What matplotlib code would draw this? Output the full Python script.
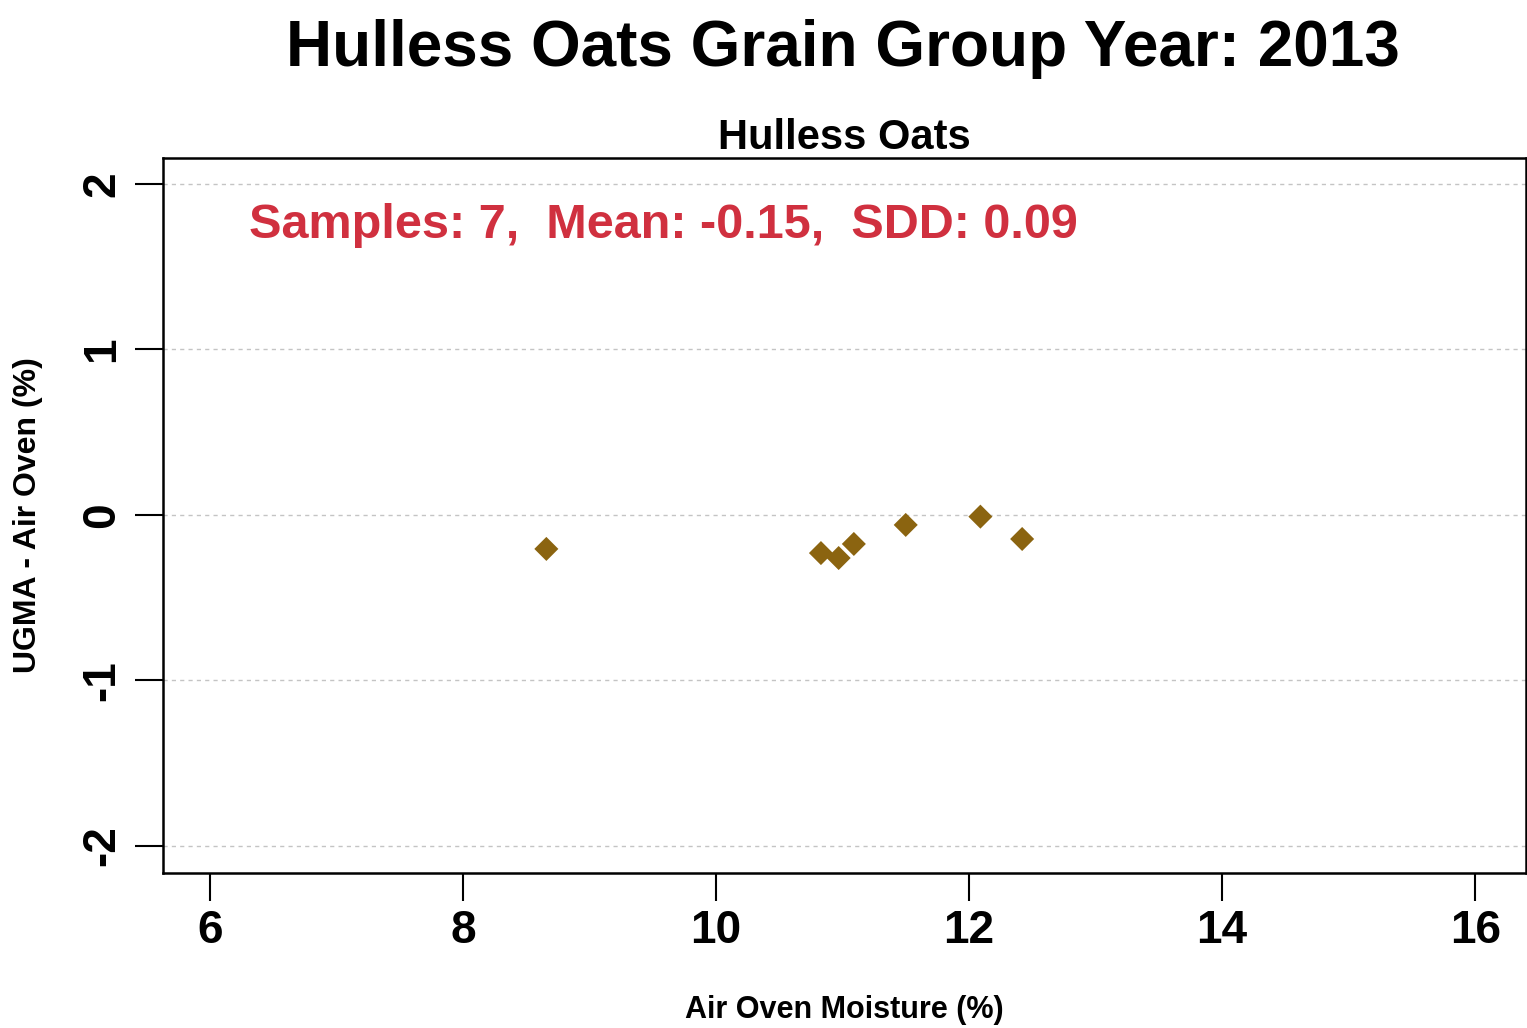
import matplotlib.pyplot as plt

# Air oven moisture (%) vs UGMA - Air Oven difference (%)
moisture = [8.66, 10.83, 10.97, 11.09, 11.50, 12.09, 12.42]
difference = [-0.205, -0.23, -0.26, -0.175, -0.06, -0.01, -0.145]
xticks = [6, 8, 10, 12, 14, 16]
yticks = [-2, -1, 0, 1, 2]

plt.rcParams["font.family"] = ["Liberation Sans", "DejaVu Sans"]

fig = plt.figure(figsize=(15.27, 10.28), dpi=100)
ax = fig.add_axes([0.1067, 0.1508, 0.8925, 0.6955])

ax.scatter(moisture, difference, marker="D", s=150, color="#8B6410", edgecolor="none", zorder=3)

ax.set_xlim(5.63, 16.4)
ax.set_ylim(-2.163, 2.157)
ax.set_xticks(xticks)
ax.set_yticks(yticks)
ax.set_xticklabels([str(t) for t in xticks], fontsize=33, fontweight="bold")
ax.set_yticklabels([str(t) for t in yticks], fontsize=33, fontweight="bold",
                   rotation=90, va="center")
ax.tick_params(axis="x", direction="out", length=20, width=1.5, pad=6)
ax.tick_params(axis="y", direction="out", length=20, width=1.5, pad=8)
for s in ax.spines.values():
    s.set_linewidth(1.8)
ax.grid(True, axis="y", color="#c4c4c4", linestyle=(0, (3, 3)), linewidth=1)

ax.set_xlabel("Air Oven Moisture (%)", fontsize=22, fontweight="bold", labelpad=30)
ax.set_ylabel("UGMA - Air Oven (%)", fontsize=23, fontweight="bold", labelpad=27)
ax.set_title("Hulless Oats", fontsize=30, fontweight="bold", pad=0)

ax.text(0.063, 0.905, "Samples: 7,  Mean: -0.15,  SDD: 0.09", transform=ax.transAxes,
        color="#D0303F", fontsize=35, fontweight="bold", va="center", ha="left")

fig.text(0.552, 0.952, "Hulless Oats Grain Group Year: 2013", fontsize=46,
         fontweight="bold", ha="center", va="center")

fig.savefig("out.png", dpi=100)
